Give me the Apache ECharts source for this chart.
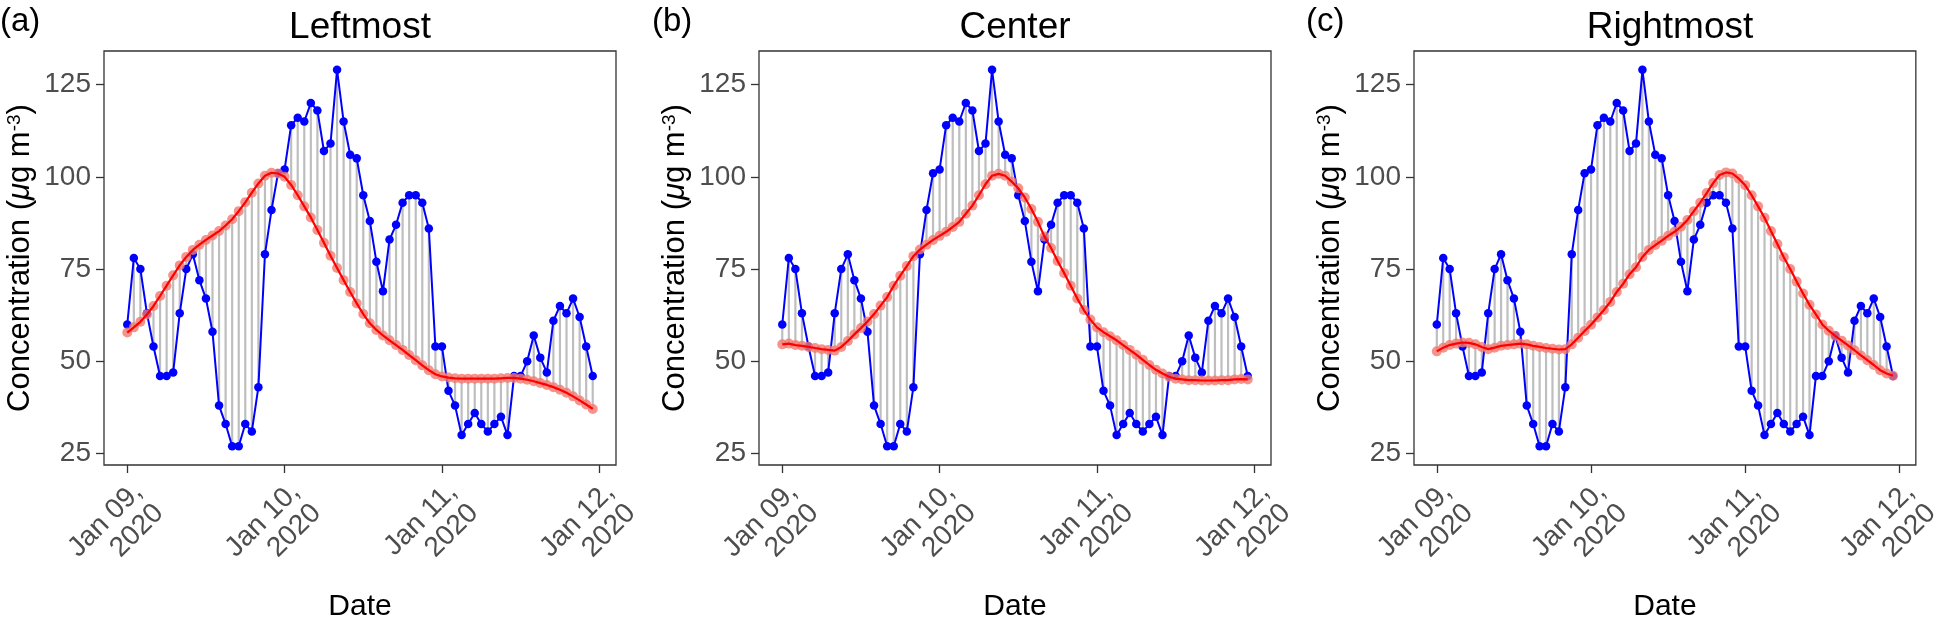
<!DOCTYPE html>
<html>
<head>
<meta charset="utf-8">
<script src="https://cdn.jsdelivr.net/npm/echarts@6/dist/echarts.min.js"></script>
<style>
html,body{margin:0;padding:0;background:#fff;}
#c{width:1944px;height:627px;}
</style>
</head>
<body>
<div id="c"></div>
<script>
// Hourly observations, Jan 09 00:00 .. Jan 11 23:00 (same in all panels)
const observed = [60,78,75,63,54,46,46,47,63,75,79,72,67,58,38,33,
  27,27,33,31,43,79,91,101,102,114,116,115,120,118,107,109,
  129,115,106,105,95,88,77,69,83,87,93,95,95,93,86,54,
  54,42,38,30,33,36,33,31,33,35,30,46,46,50,57,51,
  47,61,65,63,67,62,54,46];

// Smoothed curves (one per panel)
const smoothLeft = [57.8,59.2,60.7,62.7,65.0,67.7,70.5,73.3,76.0,78.3,80.2,81.6,82.9,84.1,85.3,86.8,
  88.5,90.7,93.1,95.7,98.2,100.3,101.1,100.9,100.0,97.8,95.0,92.0,89.0,85.6,82.1,78.6,
  75.3,72.0,68.8,65.7,62.8,60.3,58.5,57.0,55.7,54.4,53.1,51.7,50.3,48.9,47.6,46.5,
  45.9,45.6,45.4,45.3,45.3,45.3,45.3,45.3,45.3,45.4,45.5,45.5,45.3,45.0,44.6,44.1,
  43.6,43.0,42.3,41.5,40.5,39.4,38.3,37.1];
const smoothCenter = [54.6,54.8,54.4,54.2,53.9,53.6,53.3,53.1,52.9,53.9,55.5,57.3,59.0,60.8,62.8,65.1,
  67.4,70.5,73.2,75.8,78.5,80.3,81.6,82.9,84.0,85.1,86.4,87.8,90.0,92.2,95.0,98.0,
  100.3,100.8,100.3,98.7,96.9,94.4,91.3,87.8,83.8,80.7,77.2,73.9,70.5,67.0,63.9,61.3,
  59.2,57.9,56.8,55.7,54.4,53.1,51.8,50.4,49.0,47.7,46.7,45.8,45.3,45.1,44.9,44.9,
  44.8,44.8,44.8,44.9,44.9,45.1,45.2,45.1];
const smoothRight = [52.7,53.7,54.4,54.8,55.1,55.0,54.6,53.9,53.3,53.7,54.2,54.4,54.6,54.8,54.6,54.2,
  53.9,53.6,53.4,53.2,53.3,54.6,56.4,58.2,59.9,61.9,63.9,66.1,68.8,71.0,73.6,75.5,
  78.3,80.2,81.5,82.7,84.0,85.1,86.5,88.3,90.7,93.0,95.6,98.3,100.5,101.2,100.9,99.5,
  97.7,95.0,92.0,88.9,85.3,81.8,78.2,75.0,71.6,68.4,65.3,62.7,60.0,58.3,56.9,55.6,
  54.3,53.0,51.6,50.3,49.0,47.6,46.7,46.1];

const panelTitles = ['Leftmost', 'Center', 'Rightmost'];
const panelTags = ['(a)', '(b)', '(c)'];
const xTickHours = [0, 24, 48, 72];
const xTickLabels = ['Jan 09,\n2020', 'Jan 10,\n2020', 'Jan 11,\n2020', 'Jan 12,\n2020'];
const yTickValues = [25, 50, 75, 100, 125];

const smooths = [smoothLeft, smoothCenter, smoothRight];
const F = 'Liberation Sans, Arial, Helvetica, sans-serif';
const gridLefts = [104, 759, 1414];
const GW = 512, GT = 51, GH = 421;

const grids = [], xAxes = [], yAxes = [], series = [], graphics = [];
smooths.forEach((sm, k) => {
  grids.push({left: gridLefts[k], top: GT, width: GW, height: GH, show: true,
    borderColor: '#333333', borderWidth: 1.3, backgroundColor: 'transparent', containLabel: false});
  xAxes.push({type: 'value', gridIndex: k, min: -3.55, max: 74.55,
    axisLine: {show: false, onZero: false}, splitLine: {show: false},
    axisTick: {show: true, customValues: xTickHours, length: 8, lineStyle: {color: '#333333', width: 1.3}},
    axisLabel: {show: true, customValues: xTickHours, rotate: 45, margin: 12,
      fontSize: 28, color: '#4D4D4D', fontFamily: F, lineHeight: 30, align: 'right', verticalAlign: 'top',
      formatter: v => xTickLabels[xTickHours.indexOf(v)]},
    name: 'Date', nameLocation: 'middle', nameGap: 127,
    nameTextStyle: {fontSize: 30, color: '#000', fontFamily: F}});
  yAxes.push({type: 'value', gridIndex: k, min: 21.9, max: 134.1,
    axisLine: {show: false, onZero: false}, splitLine: {show: false},
    axisTick: {show: true, customValues: yTickValues, length: 8, lineStyle: {color: '#333333', width: 1.3}},
    axisLabel: {show: true, customValues: yTickValues, margin: 13, fontSize: 28, color: '#4D4D4D', fontFamily: F},
    name: '{a|Concentration (}{mu|μ}{a|g m}{s|-3}{a|)}', nameLocation: 'middle', nameGap: 68, nameRotate: 90,
    nameTextStyle: {color: '#000', fontFamily: F, fontSize: 31,
      rich: {a: {fontSize: 31, color: '#000', fontFamily: F},
             mu: {fontSize: 31, color: '#000', fontFamily: F, fontStyle: 'italic'},
             s: {fontSize: 19, color: '#000', fontFamily: F, verticalAlign: 'top', padding: [0, 0, 12, 0]}}}});

  const segData = observed.map((v, i) => [i, v, sm[i]]);
  series.push({type: 'custom', xAxisIndex: k, yAxisIndex: k, z: 1,
    encode: {x: 0, y: [1, 2]},
    renderItem: (params, api) => {
      const p1 = api.coord([api.value(0), api.value(1)]);
      const p2 = api.coord([api.value(0), api.value(2)]);
      return {type: 'line', shape: {x1: p1[0], y1: p1[1], x2: p2[0], y2: p2[1]},
        style: {stroke: '#BEBEBE', lineWidth: 2.2}};
    },
    data: segData, animation: false});
  series.push({type: 'line', xAxisIndex: k, yAxisIndex: k, z: 2,
    data: observed.map((v, i) => [i, v]),
    symbol: 'circle', symbolSize: 8.5, showSymbol: true,
    lineStyle: {color: '#0000FF', width: 2}, itemStyle: {color: '#0000FF'},
    animation: false});
  series.push({type: 'scatter', xAxisIndex: k, yAxisIndex: k, z: 3,
    data: sm.map((v, i) => [i, v]), symbolSize: 10,
    itemStyle: {color: '#F2786F'}, animation: false});
  series.push({type: 'line', xAxisIndex: k, yAxisIndex: k, z: 4,
    data: sm.map((v, i) => [i, v]), showSymbol: false, symbol: 'none',
    lineStyle: {color: '#FF0000', width: 2.2}, animation: false});

  graphics.push({type: 'text', x: gridLefts[k] + GW / 2, y: 9,
    style: {text: panelTitles[k], font: '37px ' + F, fill: '#000', textAlign: 'center', textVerticalAlign: 'top'}});
});
const tagX = [0, 652, 1306];
panelTags.forEach((t, k) => {
  graphics.push({type: 'text', x: tagX[k], y: 5,
    style: {text: t, font: '33px ' + F, fill: '#000', textAlign: 'left', textVerticalAlign: 'top'}});
});

const chart = echarts.init(document.getElementById('c'), null, {renderer: 'canvas'});
chart.setOption({
  animation: false,
  backgroundColor: '#ffffff',
  grid: grids, xAxis: xAxes, yAxis: yAxes, series: series, graphic: graphics
});
</script>
</body>
</html>
